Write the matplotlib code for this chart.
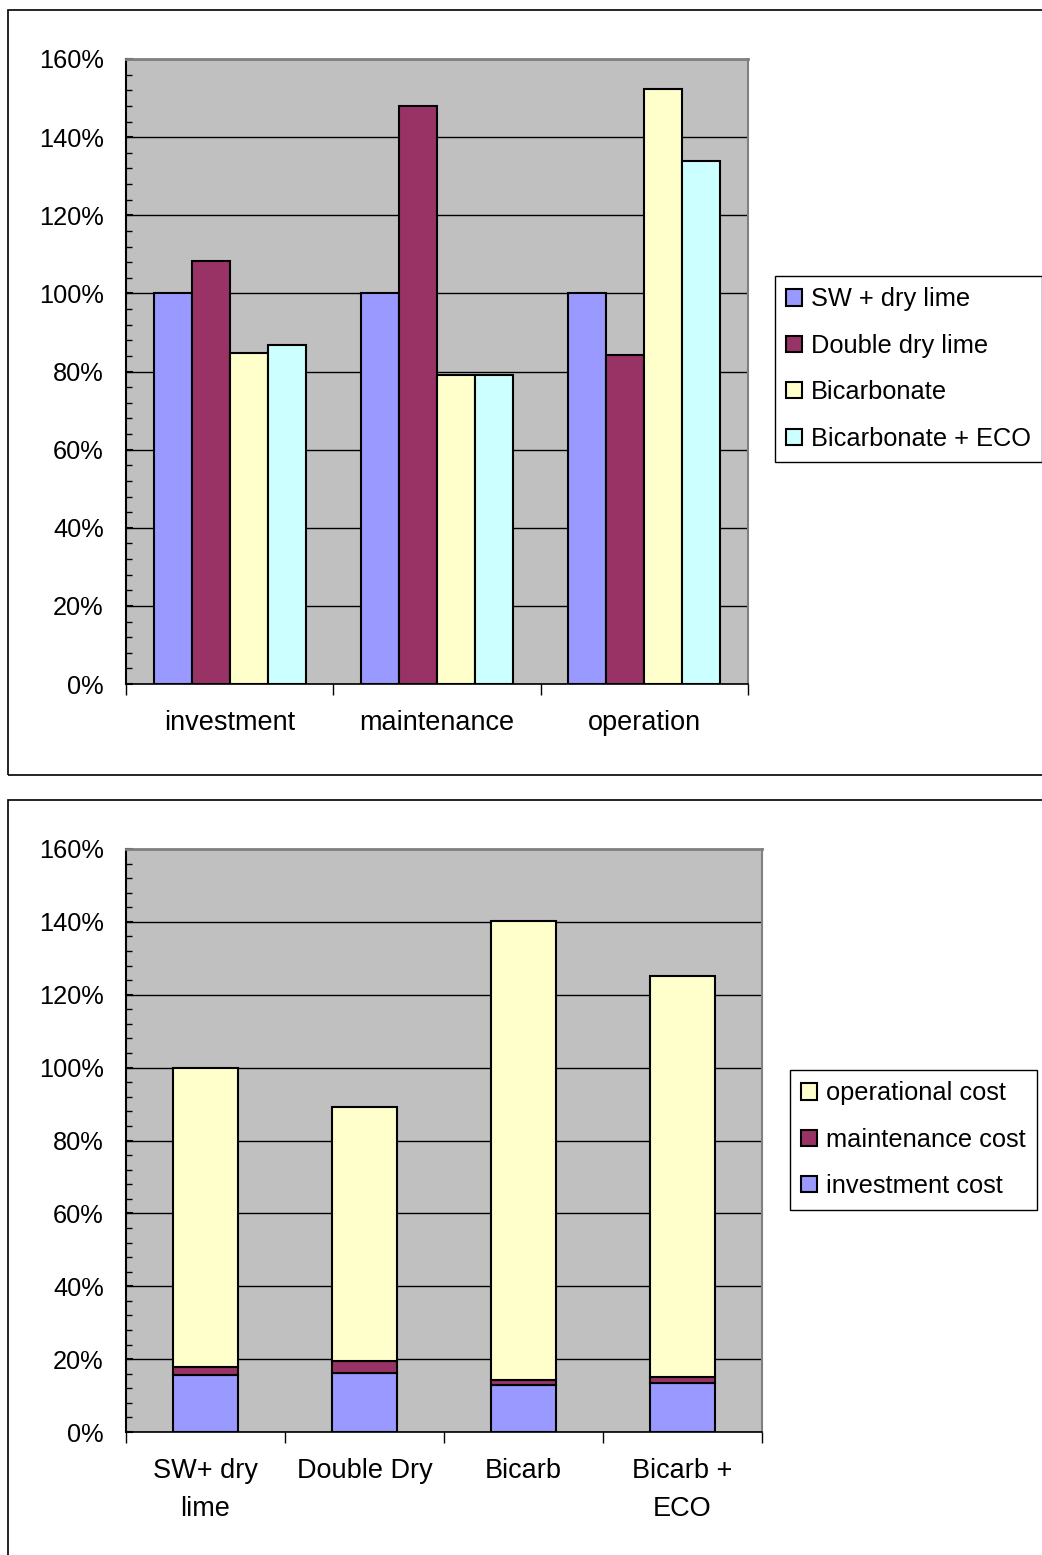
import matplotlib.pyplot as plt
import numpy as np
from matplotlib.patches import Rectangle
from matplotlib.ticker import MultipleLocator, FuncFormatter

plt.rcParams['font.family'] = ['Liberation Sans', 'DejaVu Sans']

# top chart data (% of reference)
cats1 = ['investment', 'maintenance', 'operation']
series1 = ['SW + dry lime', 'Double dry lime', 'Bicarbonate', 'Bicarbonate + ECO']
sw_dry = [100, 100, 100]
double_dry = [108.4, 148, 84.2]
bicarb = [84.8, 79.1, 152.3]
bicarb_eco = [86.8, 79.1, 133.9]

# bottom chart data (% of reference)
cats2 = ['SW+ dry\nlime', 'Double Dry', 'Bicarb', 'Bicarb +\nECO']
investment_cost = [15.6, 16.3, 12.9, 13.5]
maintenance_cost = [2.2, 3.3, 1.4, 1.5]
operational_cost = [82.2, 69.6, 125.9, 110.1]

colors1 = ['#9999FF', '#993366', '#FFFFCC', '#CCFFFF']

W, H = 1042, 1555
fig = plt.figure(figsize=(W / 100, H / 100), dpi=100)

# outer chart frames
for y0, y1 in [(10, 775), (800, 1600)]:
    fig.patches.append(Rectangle((8 / W, 1 - y1 / H), 1.2, (y1 - y0) / H,
                                 transform=fig.transFigure, fill=False,
                                 edgecolor='black', lw=1.2, clip_on=False))


def style_axes(ax, ncat):
    ax.set_facecolor('#C0C0C0')
    ax.set_ylim(0, 160)
    ax.set_xlim(0, ncat)
    ax.yaxis.set_major_locator(MultipleLocator(20))
    ax.yaxis.set_minor_locator(MultipleLocator(4))
    ax.yaxis.set_major_formatter(FuncFormatter(lambda v, p: '%d%%' % v))
    ax.tick_params(axis='y', which='major', direction='in', length=5, width=1.5,
                   labelsize=18.3, pad=16)
    ax.tick_params(axis='y', which='minor', direction='in', length=4, width=1)
    ax.grid(axis='y', which='major', color='black', lw=1)
    ax.set_axisbelow(True)
    ax.spines['left'].set_linewidth(1.5)
    ax.spines['bottom'].set_linewidth(1.2)
    ax.spines['top'].set_color('#808080')
    ax.spines['right'].set_color('#808080')
    ax.spines['top'].set_linewidth(2)
    ax.spines['right'].set_linewidth(1.5)
    # boundaries as major ticks, labels as minor ticks
    ax.set_xticks(np.arange(ncat + 1))
    ax.set_xticklabels([])
    ax.tick_params(axis='x', which='major', direction='out', length=8, width=1)
    ax.set_xticks(np.arange(ncat) + 0.5, minor=True)
    ax.tick_params(axis='x', which='minor', length=0, labelsize=19.5, pad=19)


legend_kw = dict(loc='upper left', bbox_transform=fig.transFigure, fontsize=18.3,
                 frameon=True, fancybox=False, edgecolor='black', framealpha=1,
                 handlelength=0.6, handleheight=0.6, handletextpad=0.35,
                 labelspacing=0.88, borderpad=0.45, borderaxespad=0)

# ---- top chart: grouped bars
ax1 = fig.add_axes([126 / W, 1 - 684 / H, 622 / W, 625 / H])
style_axes(ax1, 3)
x = np.arange(3) + 0.5
bw = 0.183
for i, (vals, name) in enumerate(zip([sw_dry, double_dry, bicarb, bicarb_eco], series1)):
    ax1.bar(x + (i - 1.5) * bw, vals, bw, color=colors1[i], edgecolor='black',
            lw=1.5, label=name)
ax1.set_xticklabels(cats1, minor=True)
leg1 = ax1.legend(bbox_to_anchor=(775 / W, 1 - 276 / H), **legend_kw)
leg1.get_frame().set_linewidth(1)

# ---- bottom chart: stacked bars
ax2 = fig.add_axes([126 / W, 1 - 1432 / H, 636 / W, 583 / H])
style_axes(ax2, 4)
x2 = np.arange(4) + 0.5
bw2 = 0.41
base2 = np.array(investment_cost) + np.array(maintenance_cost)
b_inv = ax2.bar(x2, investment_cost, bw2, color='#9999FF', edgecolor='black', lw=1.5,
                label='investment cost')
b_mnt = ax2.bar(x2, maintenance_cost, bw2, bottom=investment_cost, color='#993366',
                edgecolor='black', lw=1.5, label='maintenance cost')
b_op = ax2.bar(x2, operational_cost, bw2, bottom=base2, color='#FFFFCC',
               edgecolor='black', lw=1.5, label='operational cost')
ax2.set_xticklabels(cats2, minor=True, linespacing=1.6)
leg2 = ax2.legend([b_op, b_mnt, b_inv],
                  ['operational cost', 'maintenance cost', 'investment cost'],
                  bbox_to_anchor=(790 / W, 1 - 1070 / H), **legend_kw)
leg2.get_frame().set_linewidth(1)

plt.savefig('out.png', dpi=100)
